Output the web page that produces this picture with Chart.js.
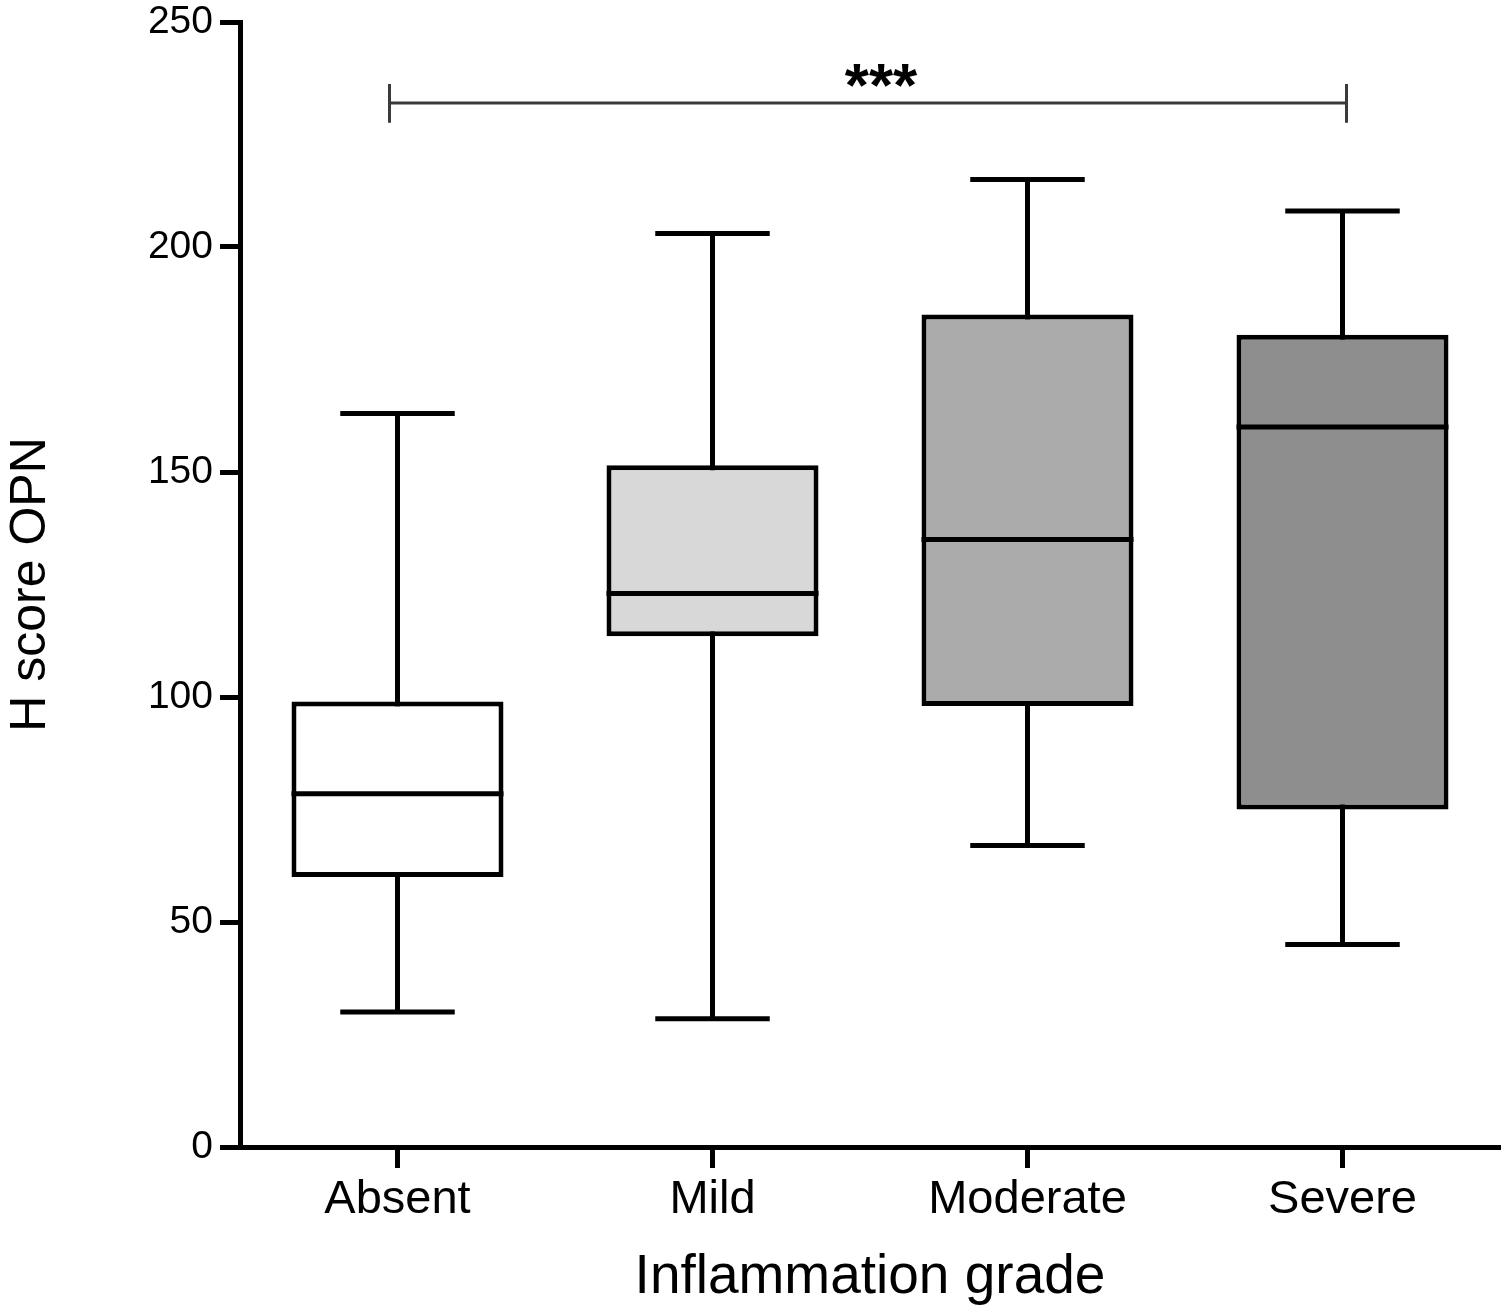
<!DOCTYPE html>
<html lang="en">
<head>
<meta charset="UTF-8">
<title>H score OPN by inflammation grade</title>
<script src="https://cdn.jsdelivr.net/npm/chart.js@4.4.1/dist/chart.umd.min.js"></script>
<style>
  body { margin: 0; background: #fff; }
  .wrap { width: 1507px; height: 1311px; }
</style>
</head>
<body>
<div class="wrap"><canvas id="chart"></canvas></div>
<script>
// values
const grades = ['Absent', 'Mild', 'Moderate', 'Severe'];
const whiskerLow = [30, 28.5, 67, 45];
const q1 = [60, 113.5, 98, 75];
const median = [78.5, 123, 135, 160];
const q3 = [99, 151.5, 185, 180.5];
const whiskerHigh = [163, 203, 215, 208];
const boxColors = ['#ffffff', '#d8d8d8', '#ababab', '#8e8e8e'];

// significance bracket Absent vs Severe
const sigFrom = 0, sigTo = 3;
const sigLevel = 232, sigCapTop = 236.2, sigCapBottom = 227.6;
const sigTextBottom = 235.6;
const sigLabel = '***';

const FONT = '"Liberation Sans", Arial, Helvetica, sans-serif';

const boxPlot = {
  id: 'boxPlot',
  beforeDatasetsDraw(chart) {
    const ctx = chart.ctx, y = chart.scales.y;
    const bars = chart.getDatasetMeta(0).data;
    ctx.save();
    ctx.strokeStyle = '#000';
    ctx.lineWidth = 5;
    bars.forEach((bar, i) => {
      const cap = bar.width * 0.27;
      const hi = y.getPixelForValue(whiskerHigh[i]);
      const lo = y.getPixelForValue(whiskerLow[i]);
      ctx.beginPath();
      ctx.moveTo(bar.x, hi);
      ctx.lineTo(bar.x, lo);
      ctx.moveTo(bar.x - cap, hi);
      ctx.lineTo(bar.x + cap, hi);
      ctx.moveTo(bar.x - cap, lo);
      ctx.lineTo(bar.x + cap, lo);
      ctx.stroke();
    });
    ctx.restore();
  },
  afterDatasetsDraw(chart) {
    const ctx = chart.ctx, x = chart.scales.x, y = chart.scales.y;
    const bars = chart.getDatasetMeta(0).data;
    ctx.save();
    ctx.strokeStyle = '#000';
    ctx.lineWidth = 5;
    bars.forEach((bar, i) => {
      const m = y.getPixelForValue(median[i]);
      ctx.beginPath();
      ctx.moveTo(bar.x - bar.width / 2, m);
      ctx.lineTo(bar.x + bar.width / 2, m);
      ctx.stroke();
    });

    // bracket
    const x1 = x.getPixelForValue(sigFrom) - 8;
    const x2 = x.getPixelForValue(sigTo) + 4;
    const ly = y.getPixelForValue(sigLevel);
    ctx.strokeStyle = '#3a3a3a';
    ctx.lineWidth = 3;
    ctx.beginPath();
    ctx.moveTo(x1, ly);
    ctx.lineTo(x2, ly);
    ctx.moveTo(x1, y.getPixelForValue(sigCapTop));
    ctx.lineTo(x1, y.getPixelForValue(sigCapBottom));
    ctx.moveTo(x2, y.getPixelForValue(sigCapTop));
    ctx.lineTo(x2, y.getPixelForValue(sigCapBottom));
    ctx.stroke();

    ctx.fillStyle = '#000';
    ctx.font = 'bold 62px ' + FONT;
    ctx.textAlign = 'center';
    ctx.textBaseline = 'alphabetic';
    const tm = ctx.measureText(sigLabel);
    const base = y.getPixelForValue(sigTextBottom) - tm.actualBoundingBoxDescent;
    ctx.fillText(sigLabel, (x1 + x2) / 2 + 13, base);
    ctx.restore();
  }
};

new Chart(document.getElementById('chart'), {
  type: 'bar',
  data: {
    labels: grades,
    datasets: [{
      data: grades.map((g, i) => [q1[i], q3[i]]),
      backgroundColor: boxColors,
      borderColor: '#000',
      borderWidth: 5,
      borderSkipped: false,
      categoryPercentage: 1,
      barPercentage: 0.673
    }]
  },
  options: {
    responsive: true,
    maintainAspectRatio: false,
    animation: false,
    layout: { padding: { top: 22, right: 7, left: 0, bottom: 0 } },
    plugins: { legend: { display: false }, tooltip: { enabled: false } },
    scales: {
      x: {
        grid: { display: true, drawOnChartArea: false, drawTicks: true, offset: false,
                tickLength: 21, tickWidth: 5, tickColor: '#000' },
        border: { display: true, color: '#000', width: 5 },
        ticks: { color: '#000', padding: 4, maxRotation: 0,
                 font: { family: FONT, size: 47 } },
        title: { display: true, text: 'Inflammation grade', color: '#000',
                 padding: { top: 0, bottom: 0 },
                 font: { family: FONT, size: 55, lineHeight: 1.2 } },
        afterFit(s) { s.height = 164; }
      },
      y: {
        min: 0, max: 250,
        grid: { display: true, drawOnChartArea: false, drawTicks: true,
                tickLength: 20, tickWidth: 5, tickColor: '#000' },
        border: { display: true, color: '#000', width: 5 },
        ticks: { stepSize: 50, color: '#000', padding: 7,
                 font: { family: FONT, size: 39, lineHeight: 0.6 } },
        title: { display: true, text: 'H score OPN', color: '#000',
                 padding: { top: 0, bottom: 0 },
                 font: { family: FONT, size: 50, lineHeight: 1.25 } },
        afterFit(s) { s.width = 240; }
      }
    }
  },
  plugins: [boxPlot]
});
</script>
</body>
</html>
